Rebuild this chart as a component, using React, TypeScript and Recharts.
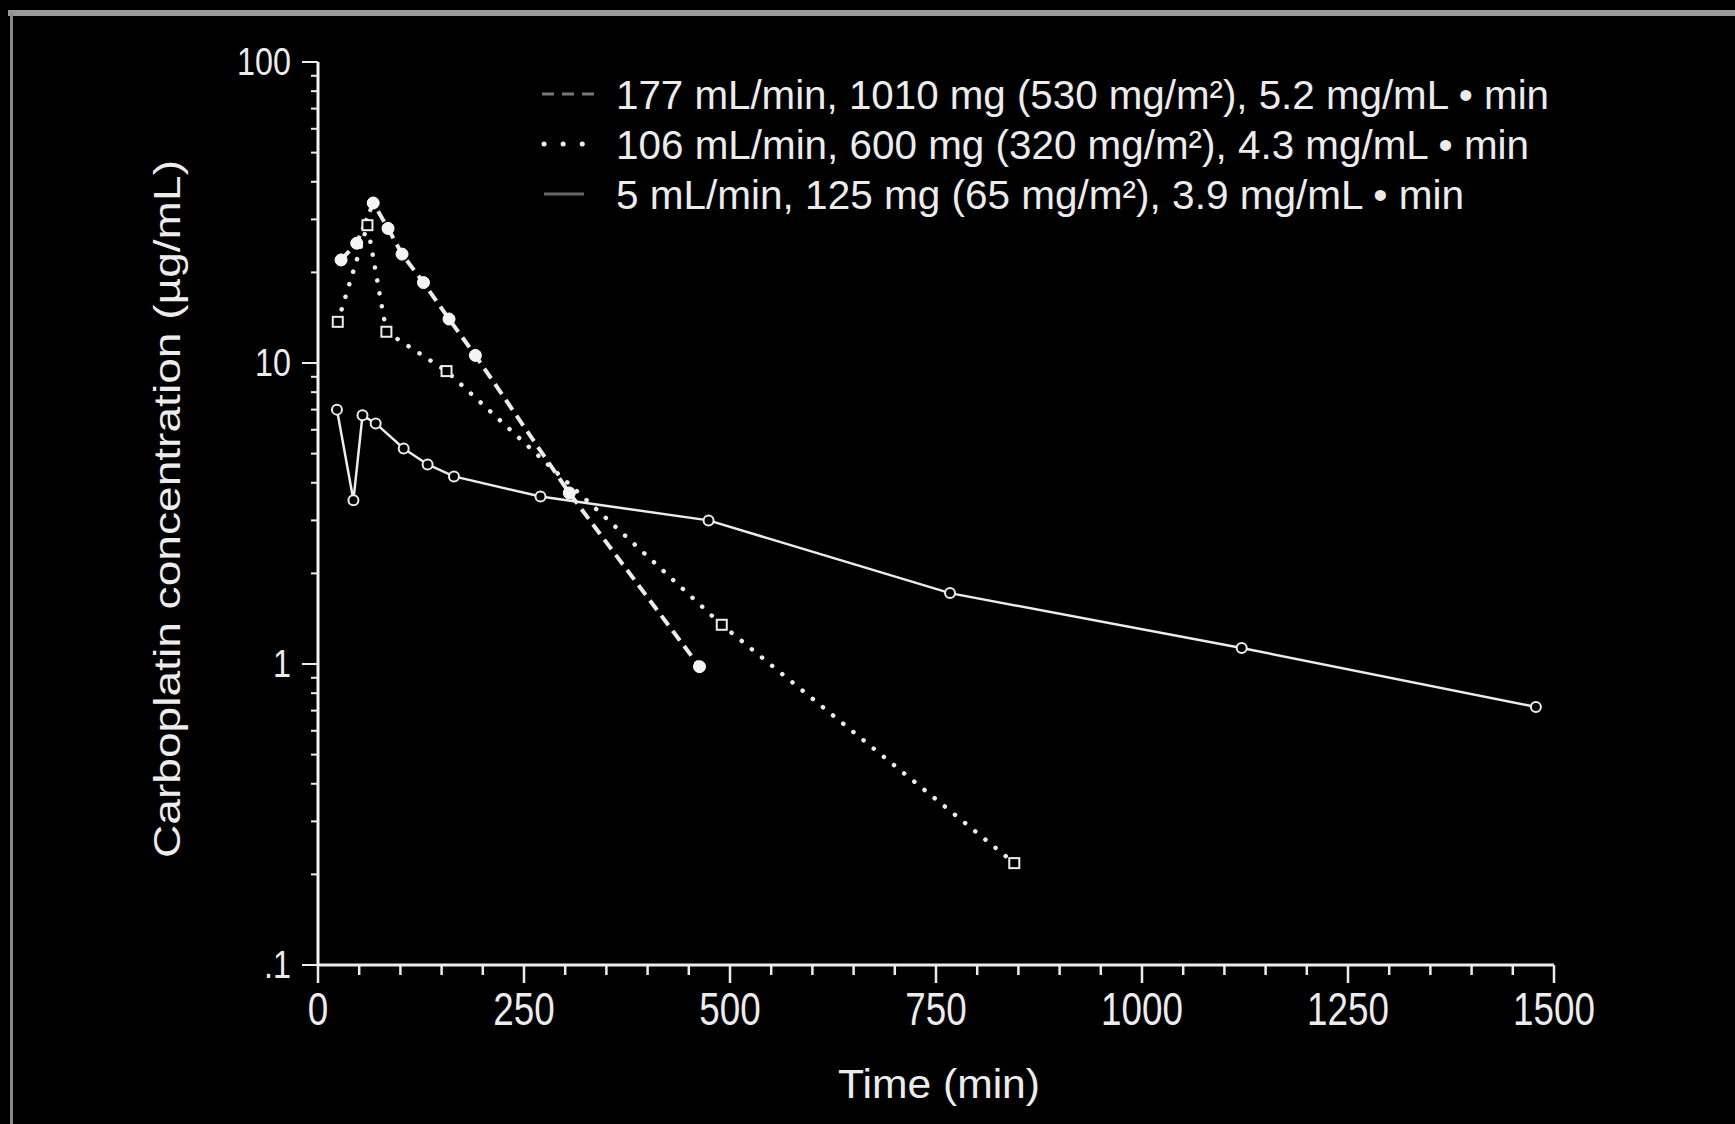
import { LineChart, Line, XAxis, YAxis } from 'recharts';

// 177 mL/min, 1010 mg (dashed)
const highT = [28, 47, 67, 85, 102, 128, 159, 191, 305, 463];
const highC = [22, 25, 34, 28, 23, 18.5, 14, 10.6, 3.7, 0.98];

// 106 mL/min, 600 mg (dotted)
const midT = [24, 60, 83, 156, 490, 845];
const midC = [13.7, 28.7, 12.7, 9.4, 1.35, 0.218];

// 5 mL/min, 125 mg (solid)
const lowT = [23, 43, 54, 70, 104, 133, 165, 270, 474, 767, 1121, 1478];
const lowC = [7.0, 3.5, 6.7, 6.3, 5.2, 4.6, 4.2, 3.6, 3.0, 1.72, 1.13, 0.72];

const xTicks = [0, 50, 100, 150, 200, 250, 300, 350, 400, 450, 500, 550, 600, 650, 700, 750, 800, 850, 900, 950, 1000, 1050, 1100, 1150, 1200, 1250, 1300, 1350, 1400, 1450, 1500];
const yTicks = [0.1, 0.2, 0.3, 0.4, 0.5, 0.6, 0.7, 0.8, 0.9, 1, 2, 3, 4, 5, 6, 7, 8, 9, 10, 20, 30, 40, 50, 60, 70, 80, 90, 100];
const yLabels: Record<string, string> = { '0.1': '.1', '1': '1', '10': '10', '100': '100' };

const legendLabels = [
  '177 mL/min, 1010 mg (530 mg/m²), 5.2 mg/mL • min',
  '106 mL/min, 600 mg (320 mg/m²), 4.3 mg/mL • min',
  '5 mL/min, 125 mg (65 mg/m²), 3.9 mg/mL • min',
];

const FONT = '"Liberation Sans", Arial, sans-serif';
const INK = '#ececec';

const toRows = (ts: number[], cs: number[]) => ts.map((t, i) => ({ t, c: cs[i] }));

const XTick = (props: any) => {
  const { x, y, payload } = props;
  const v = payload.value as number;
  const major = v % 250 === 0;
  return (
    <g>
      <line x1={x} y1={y} x2={x} y2={y + (major ? 18 : 10)} stroke={INK} strokeWidth={2.5} />
      {major && (
        <text
          transform={`translate(${x},${y + 60}) scale(0.8,1)`}
          textAnchor="middle"
          fontSize={46}
          fontFamily={FONT}
          fill={INK}
        >
          {v}
        </text>
      )}
    </g>
  );
};

const YTick = (props: any) => {
  const { x, y, payload } = props;
  const label = yLabels[String(payload.value)];
  return (
    <g>
      <line x1={x} y1={y} x2={x - (label ? 16 : 7)} y2={y} stroke={INK} strokeWidth={2} />
      {label && (
        <text
          transform={`translate(${x - 27},${y + 13}) scale(0.85,1)`}
          textAnchor="end"
          fontSize={38}
          fontFamily={FONT}
          fill={INK}
        >
          {label}
        </text>
      )}
    </g>
  );
};

const openCircle = (props: any) => (
  <circle key={`lo-${props.index}`} cx={props.cx} cy={props.cy} r={5} fill="#000" stroke={INK} strokeWidth={2} />
);
const filledCircle = (props: any) => (
  <circle key={`hi-${props.index}`} cx={props.cx} cy={props.cy} r={6} fill="#f4f4f4" stroke="#fff" strokeWidth={1} />
);
const openSquare = (props: any) => (
  <rect key={`md-${props.index}`} x={props.cx - 5} y={props.cy - 5} width={10} height={10} fill="#000" stroke={INK} strokeWidth={2} />
);

// legend + axis titles drawn on top of the chart
const Overlay = () => (
  <svg width={1735} height={1124} style={{ position: 'absolute', left: 0, top: 0, pointerEvents: 'none' }}>
    <g transform="translate(520,60)">
      <line x1={22} y1={34} x2={78} y2={34} stroke="#777" strokeWidth={3} strokeDasharray="12 8" />
      <line x1={24} y1={84} x2={78} y2={84} stroke={INK} strokeWidth={5} strokeDasharray="0.1 19" strokeLinecap="round" />
      <line x1={24} y1={134} x2={64} y2={134} stroke="#666" strokeWidth={3} />
      {legendLabels.map((s, i) => (
        <text
          key={s}
          x={96}
          y={49 + i * 50}
          fontSize={40}
          fontFamily={FONT}
          fill={INK}
          textLength={[933, 913, 848][i]}
          lengthAdjust="spacingAndGlyphs"
        >
          {s}
        </text>
      ))}
    </g>
    <text
      transform="translate(180,509) rotate(-90)"
      textAnchor="middle"
      fontSize={36}
      fontFamily={FONT}
      fill={INK}
      textLength={698}
      lengthAdjust="spacingAndGlyphs"
    >
      Carboplatin concentration (µg/mL)
    </text>
    <text
      x={939}
      y={1098}
      textAnchor="middle"
      fontSize={40}
      fontFamily={FONT}
      fill={INK}
      textLength={202}
      lengthAdjust="spacingAndGlyphs"
    >
      Time (min)
    </text>
  </svg>
);

export default function App() {
  return (
    <div style={{ width: 1735, height: 1124, background: '#000', position: 'relative', overflow: 'hidden' }}>
      <style>{'html,body{margin:0;background:#000}'}</style>
      <div style={{ position: 'absolute', left: 8, top: 10, width: 1727, height: 6, background: '#9a9a9a' }} />
      <div style={{ position: 'absolute', left: 10, top: 13, width: 3, height: 1111, background: '#8a8a8a' }} />
      <LineChart
        width={1735}
        height={1124}
        margin={{ top: 62, right: 181, bottom: 99, left: 198 }}
        style={{ position: 'absolute', left: 0, top: 0 }}
      >
        <XAxis
          type="number"
          dataKey="t"
          domain={[0, 1500]}
          ticks={xTicks}
          interval={0}
          tick={<XTick />}
          tickLine={false}
          tickSize={0}
          tickMargin={0}
          height={60}
          axisLine={{ stroke: INK, strokeWidth: 3 }}
          allowDataOverflow
        />
        <YAxis
          type="number"
          scale="log"
          dataKey="c"
          domain={[0.1, 100]}
          ticks={yTicks}
          interval={0}
          tick={<YTick />}
          tickLine={false}
          tickSize={0}
          tickMargin={0}
          width={120}
          axisLine={{ stroke: '#f4f4f4', strokeWidth: 3 }}
          allowDataOverflow
        />
        <Line
          data={toRows(lowT, lowC)}
          dataKey="c"
          stroke={INK}
          strokeWidth={2.5}
          dot={openCircle}
          isAnimationActive={false}
        />
        <Line
          data={toRows(midT, midC)}
          dataKey="c"
          stroke={INK}
          strokeWidth={4.5}
          strokeDasharray="0.1 13"
          strokeLinecap="round"
          dot={openSquare}
          isAnimationActive={false}
        />
        <Line
          data={toRows(highT, highC)}
          dataKey="c"
          stroke={INK}
          strokeWidth={4}
          strokeDasharray="12 7"
          dot={filledCircle}
          isAnimationActive={false}
        />
      </LineChart>
      <Overlay />
    </div>
  );
}
